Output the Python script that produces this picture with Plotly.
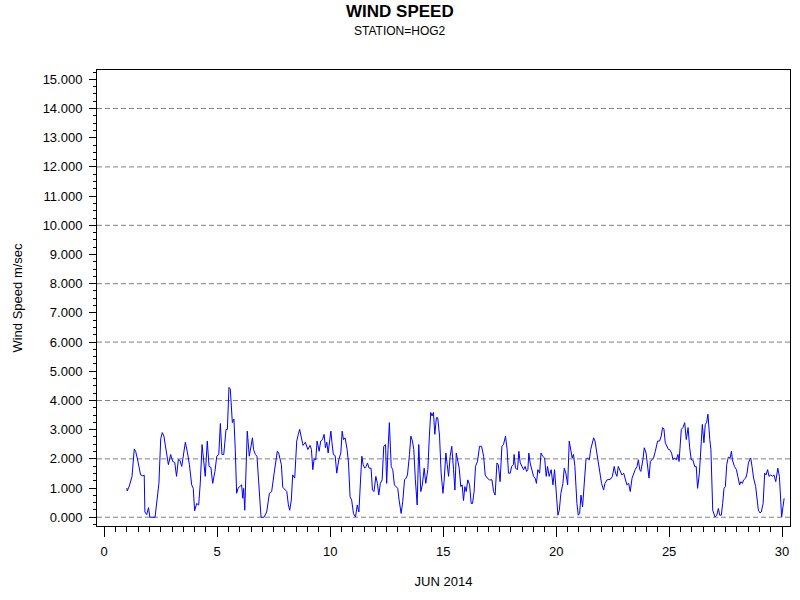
import plotly.graph_objects as go

# wind speed readings for station HOG2, June 2014 (day of month, m/sec)
days = [
    1.00, 1.02, 1.11, 1.23, 1.33, 1.39, 1.46, 1.55, 1.61, 1.70, 1.77, 1.80, 1.88, 1.96, 2.02, 2.25,
    2.35, 2.42, 2.50, 2.57, 2.64, 2.72, 2.84, 2.94, 3.03, 3.12, 3.20, 3.28, 3.35, 3.43, 3.51, 3.59,
    3.68, 3.77, 3.87, 3.94, 4.00, 4.09, 4.18, 4.25, 4.33, 4.40, 4.47, 4.56, 4.64, 4.72, 4.80, 4.90,
    4.98, 5.07, 5.14, 5.21, 5.29, 5.39, 5.45, 5.52, 5.58, 5.67, 5.74, 5.80, 5.86, 5.92, 6.01, 6.08,
    6.13, 6.17, 6.22, 6.26, 6.33, 6.42, 6.50, 6.56, 6.61, 6.69, 6.76, 6.87, 6.94, 7.07, 7.19, 7.31,
    7.41, 7.52, 7.59, 7.66, 7.72, 7.78, 7.84, 7.90, 8.00, 8.08, 8.15, 8.21, 8.28, 8.34, 8.43, 8.52,
    8.59, 8.65, 8.71, 8.80, 8.90, 9.01, 9.11, 9.17, 9.23, 9.29, 9.36, 9.42, 9.51, 9.58, 9.66, 9.73,
    9.79, 9.85, 9.91, 9.97, 10.03, 10.08, 10.14, 10.22, 10.29, 10.38, 10.47, 10.53, 10.59, 10.66,
    10.75, 10.81, 10.88, 10.95, 11.03, 11.12, 11.20, 11.27, 11.32, 11.40, 11.46, 11.53, 11.59, 11.65,
    11.72, 11.81, 11.87, 11.94, 12.02, 12.09, 12.15, 12.22, 12.30, 12.37, 12.45, 12.50, 12.56, 12.62,
    12.70, 12.77, 12.84, 12.92, 12.99, 13.05, 13.14, 13.21, 13.29, 13.36, 13.42, 13.51, 13.57, 13.64,
    13.70, 13.77, 13.85, 13.92, 14.01, 14.08, 14.16, 14.23, 14.32, 14.39, 14.45, 14.51, 14.57, 14.63,
    14.70, 14.76, 14.84, 14.91, 14.99, 15.04, 15.12, 15.18, 15.24, 15.31, 15.38, 15.46, 15.52, 15.58,
    15.64, 15.71, 15.78, 15.84, 15.90, 15.96, 16.02, 16.09, 16.17, 16.24, 16.30, 16.37, 16.43, 16.52,
    16.61, 16.70, 16.79, 16.86, 16.95, 17.05, 17.16, 17.23, 17.30, 17.38, 17.44, 17.52, 17.60, 17.67,
    17.76, 17.83, 17.89, 17.97, 18.03, 18.11, 18.14, 18.20, 18.29, 18.35, 18.41, 18.47, 18.56, 18.63,
    18.69, 18.75, 18.79, 18.85, 18.93, 19.00, 19.07, 19.13, 19.19, 19.27, 19.33, 19.40, 19.49, 19.56,
    19.62, 19.69, 19.78, 19.86, 19.93, 20.00, 20.08, 20.14, 20.21, 20.30, 20.36, 20.43, 20.51, 20.58,
    20.65, 20.71, 20.77, 20.83, 20.92, 20.98, 21.04, 21.10, 21.17, 21.24, 21.32, 21.39, 21.47, 21.53,
    21.60, 21.66, 21.72, 21.78, 21.87, 21.95, 22.01, 22.10, 22.16, 22.25, 22.34, 22.40, 22.49, 22.57,
    22.63, 22.69, 22.75, 22.84, 22.91, 22.99, 23.05, 23.13, 23.21, 23.28, 23.36, 23.43, 23.50, 23.58,
    23.64, 23.70, 23.75, 23.84, 23.90, 23.98, 24.05, 24.11, 24.17, 24.24, 24.31, 24.39, 24.49, 24.58,
    24.65, 24.71, 24.77, 24.83, 24.91, 24.97, 25.02, 25.11, 25.17, 25.24, 25.32, 25.39, 25.44, 25.50,
    25.54, 25.61, 25.69, 25.76, 25.84, 25.91, 25.98, 26.06, 26.13, 26.20, 26.26, 26.34, 26.41, 26.47,
    26.54, 26.60, 26.66, 26.72, 26.80, 26.85, 26.93, 27.03, 27.11, 27.18, 27.24, 27.31, 27.37, 27.43,
    27.49, 27.55, 27.62, 27.70, 27.76, 27.80, 27.89, 27.98, 28.04, 28.12, 28.18, 28.24, 28.30, 28.39,
    28.45, 28.51, 28.57, 28.61, 28.67, 28.74, 28.83, 28.89, 28.95, 29.02, 29.08, 29.16, 29.23, 29.29,
    29.36, 29.42, 29.50, 29.57, 29.64, 29.72, 29.81, 29.88, 29.94, 29.98, 30.04, 30.09,
]
speed = [
    1.00, 0.90, 1.07, 1.40, 2.34, 2.26, 2.03, 1.74, 1.45, 1.42, 1.44, 0.18, 0.09, 0.33, 0.00, 0.00,
    0.70, 1.16, 2.69, 2.90, 2.78, 2.43, 1.80, 2.15, 1.91, 1.88, 1.40, 1.97, 1.95, 1.74, 2.09, 2.57,
    2.23, 1.80, 1.11, 0.99, 0.22, 0.47, 0.42, 1.16, 2.49, 1.91, 1.40, 2.61, 1.74, 1.71, 1.16, 1.57,
    2.09, 2.15, 3.21, 2.15, 2.15, 3.01, 3.01, 4.45, 4.39, 3.24, 3.36, 2.32, 0.82, 0.99, 1.05, 1.11,
    0.65, 0.99, 0.24, 1.28, 2.95, 2.09, 2.49, 2.72, 2.32, 2.15, 2.09, 0.70, 0.00, 0.00, 0.18, 0.82,
    0.88, 1.51, 2.00, 2.26, 2.20, 2.00, 1.80, 1.03, 0.93, 0.88, 0.42, 0.24, 0.59, 1.45, 1.34, 2.61,
    2.84, 3.01, 2.78, 2.46, 2.57, 2.32, 2.46, 2.32, 1.63, 2.00, 1.97, 2.61, 2.26, 2.61, 2.66, 2.84,
    2.38, 2.57, 2.20, 2.55, 2.95, 2.55, 2.15, 2.11, 1.51, 1.97, 2.20, 2.95, 2.66, 2.72,
    2.32, 1.86, 0.70, 0.59, 0.13, 0.01, 0.42, 0.18, 1.16, 2.09, 1.80, 1.68, 1.74, 1.86,
    1.68, 1.68, 0.93, 0.88, 1.40, 1.16, 0.76, 1.16, 1.28, 2.43, 2.49, 1.16, 2.32, 3.24,
    1.74, 1.63, 1.11, 1.05, 0.99, 0.59, 0.13, 0.53, 1.28, 1.34, 1.45, 2.15, 2.78, 2.61,
    2.32, 1.28, 0.42, 2.49, 0.88, 1.11, 1.68, 1.16, 1.63, 2.78, 3.59, 3.47, 3.59, 2.84,
    3.41, 3.41, 2.78, 1.51, 0.82, 1.22, 2.20, 1.80, 1.40, 2.09, 2.43, 1.63, 0.93, 2.20,
    1.97, 1.68, 1.05, 1.11, 0.57, 1.05, 0.88, 1.28, 1.11, 0.47, 0.47, 0.88, 1.74, 1.91,
    2.43, 2.43, 2.09, 1.45, 1.34, 1.28, 1.28, 0.88, 0.76, 1.86, 1.80, 1.22, 2.43, 2.49,
    2.78, 2.32, 1.51, 1.51, 1.74, 1.80, 2.15, 1.68, 1.63, 2.26, 1.86, 1.74, 1.63, 1.74,
    1.57, 1.63, 2.20, 1.86, 1.57, 1.40, 1.34, 1.16, 1.63, 1.51, 2.20, 2.09, 2.03, 1.40,
    1.74, 1.40, 1.63, 1.11, 1.63, 0.70, 0.07, 0.24, 0.82, 1.16, 1.68, 1.51, 1.11, 2.61,
    2.20, 2.03, 2.15, 1.74, 0.47, 0.07, 0.13, 0.76, 0.36, 1.11, 1.97, 2.03, 1.97, 2.32,
    2.49, 2.72, 2.61, 2.32, 1.91, 1.51, 1.16, 0.93, 1.16, 1.28, 1.28, 1.30, 1.40, 1.74,
    1.51, 1.40, 1.74, 1.57, 1.45, 1.51, 1.34, 1.11, 1.16, 0.88, 1.34, 1.51, 1.63, 1.74,
    1.97, 1.63, 1.57, 1.97, 2.38, 2.20, 1.63, 1.34, 1.91, 1.97, 2.03, 2.26, 2.61, 2.61,
    2.78, 3.07, 3.03, 2.55, 2.43, 2.32, 2.32, 2.20, 1.97, 2.03, 1.97, 2.15, 1.91, 2.43,
    3.01, 3.07, 3.24, 2.66, 3.07, 2.38, 1.97, 1.95, 1.74, 1.74, 0.99, 1.51, 2.43, 3.18,
    2.55, 3.18, 3.24, 3.53, 2.66, 2.32, 0.24, 0.01, 0.07, 0.30, 0.07, 0.07, 0.47, 0.99,
    1.05, 1.80, 2.06, 2.03, 2.26, 1.97, 1.74, 1.63, 1.40, 1.11, 1.22, 1.16, 1.28, 1.34,
    1.51, 1.86, 1.97, 2.03, 1.74, 1.34, 1.05, 0.70, 0.24, 0.15, 0.18, 0.47, 1.51, 1.45,
    1.63, 1.40, 1.45, 1.40, 1.45, 1.22, 1.68, 1.40, 0.47, 0.01, 0.36, 0.65,
]
grid_levels = [0, 2, 4, 6, 8, 10, 12, 14]

fnt = "Liberation Sans, Arial, sans-serif"

fig = go.Figure()
fig.add_trace(go.Scatter(x=days, y=speed, mode="lines",
                         line=dict(color="#0000ff", width=1), showlegend=False))

for g in grid_levels:
    fig.add_hline(y=g, line_dash="5px,3px", line_color="#808080", line_width=1, layer="below")

fig.update_layout(
    width=800, height=600,
    paper_bgcolor="white", plot_bgcolor="white",
    margin=dict(l=97, r=10, t=70, b=74, autoexpand=False),
    font=dict(family=fnt, size=13, color="black"),
    xaxis=dict(range=[-0.32, 30.35], tick0=0, dtick=5, ticks="outside", ticklen=10,
               tickwidth=1, tickcolor="black", showline=True, linecolor="black", linewidth=1,
               mirror=True, showgrid=False, zeroline=False, automargin=False,
               ticklabelstandoff=3,
               minor=dict(dtick=0.5, ticks="outside", ticklen=5, tickcolor="black", showgrid=False),
               title=dict(text="JUN 2014", standoff=19, font=dict(size=13))),
    yaxis=dict(range=[-0.30, 15.32], tick0=0, dtick=1, tickformat=".3f", ticks="outside",
               ticklen=7, tickwidth=1, tickcolor="black", showline=True, linecolor="black",
               linewidth=1, mirror=True, showgrid=False, zeroline=False, automargin=False,
               ticklabelstandoff=4,
               minor=dict(dtick=0.25, ticks="outside", ticklen=3, tickcolor="black", showgrid=False),
               title=dict(text="Wind Speed m/sec", standoff=17, font=dict(size=13))),
    annotations=[
        dict(text="<b>WIND SPEED</b>", xref="paper", yref="paper", x=(400 - 97) / 693,
             y=(526 - 11) / 456, showarrow=False, font=dict(size=17), xanchor="center", yanchor="middle"),
        dict(text="STATION=HOG2", xref="paper", yref="paper", x=(400 - 97) / 693,
             y=(526 - 31) / 456, showarrow=False, font=dict(size=12), xanchor="center", yanchor="middle"),
    ],
)

# drop the default 8px body margin so the figure fills the window
fig.write_html("out.html", config={"displayModeBar": False},
               post_script="document.body.style.margin='0';")
